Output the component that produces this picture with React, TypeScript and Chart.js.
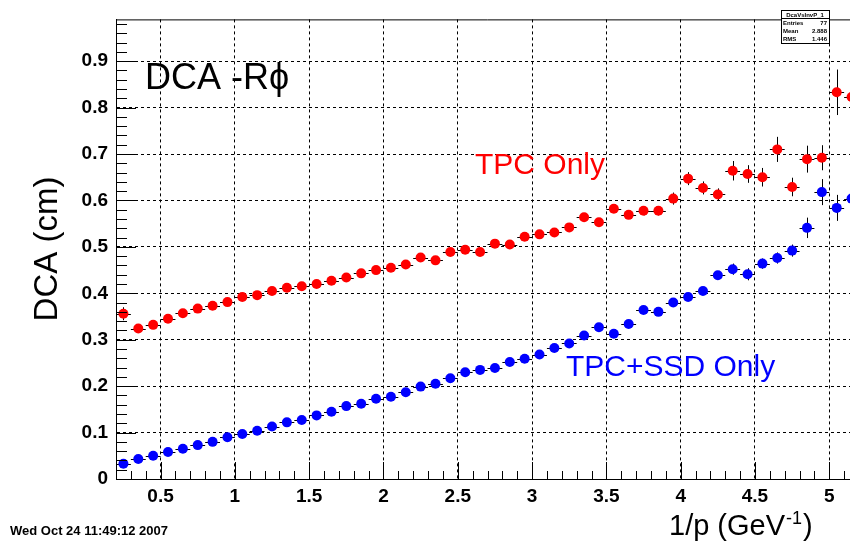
import React, { useEffect, useRef } from "react";
import { Chart, registerables } from "chart.js";

Chart.register(...registerables);

// ---- data ----
const binCenters = [
  0.25, 0.35, 0.45, 0.55, 0.65, 0.75, 0.85, 0.95, 1.05, 1.15,
  1.25, 1.35, 1.45, 1.55, 1.65, 1.75, 1.85, 1.95, 2.05, 2.15,
  2.25, 2.35, 2.45, 2.55, 2.65, 2.75, 2.85, 2.95, 3.05, 3.15,
  3.25, 3.35, 3.45, 3.55, 3.65, 3.75, 3.85, 3.95, 4.05, 4.15,
  4.25, 4.35, 4.45, 4.55, 4.65, 4.75, 4.85, 4.95, 5.05, 5.15,
];
const binHalfWidth = 0.05;

const tpcOnly = [
  0.356, 0.324, 0.332, 0.345, 0.357, 0.367, 0.373, 0.381, 0.392, 0.396,
  0.405, 0.412, 0.415, 0.420, 0.427, 0.434, 0.443, 0.450, 0.455, 0.462,
  0.477, 0.471, 0.489, 0.494, 0.489, 0.507, 0.505, 0.522, 0.527, 0.531,
  0.542, 0.564, 0.553, 0.582, 0.569, 0.578, 0.578, 0.604, 0.647, 0.627,
  0.613, 0.664, 0.657, 0.650, 0.710, 0.629, 0.689, 0.692, 0.833, 0.823,
];
const tpcOnlyErr = [
  0.014, 0.005, 0.005, 0.005, 0.005, 0.005, 0.005, 0.005, 0.005, 0.005,
  0.006, 0.006, 0.006, 0.006, 0.006, 0.006, 0.006, 0.007, 0.007, 0.007,
  0.007, 0.007, 0.008, 0.008, 0.008, 0.008, 0.008, 0.008, 0.009, 0.009,
  0.009, 0.009, 0.009, 0.009, 0.009, 0.010, 0.010, 0.013, 0.014, 0.014,
  0.013, 0.021, 0.019, 0.020, 0.027, 0.020, 0.029, 0.027, 0.049, 0.018,
];

const tpcSsd = [
  0.033, 0.043, 0.050, 0.058, 0.065, 0.073, 0.080, 0.090, 0.097, 0.104,
  0.113, 0.122, 0.127, 0.137, 0.145, 0.157, 0.162, 0.173, 0.177, 0.187,
  0.199, 0.205, 0.217, 0.230, 0.235, 0.239, 0.252, 0.259, 0.268, 0.282,
  0.292, 0.309, 0.327, 0.313, 0.334, 0.364, 0.360, 0.380, 0.392, 0.405,
  0.439, 0.452, 0.441, 0.464, 0.476, 0.492, 0.541, 0.618, 0.584, 0.604,
];
const tpcSsdErr = [
  0.003, 0.003, 0.003, 0.003, 0.003, 0.003, 0.003, 0.003, 0.003, 0.003,
  0.004, 0.004, 0.004, 0.004, 0.004, 0.004, 0.004, 0.004, 0.004, 0.004,
  0.005, 0.005, 0.005, 0.005, 0.005, 0.005, 0.005, 0.005, 0.006, 0.006,
  0.006, 0.006, 0.006, 0.007, 0.007, 0.007, 0.007, 0.007, 0.008, 0.008,
  0.008, 0.012, 0.013, 0.011, 0.012, 0.013, 0.022, 0.028, 0.028, 0.020,
];

const xTickValues = [0.5, 1, 1.5, 2, 2.5, 3, 3.5, 4, 4.5, 5];
const xTickLabels = ["0.5", "1", "1.5", "2", "2.5", "3", "3.5", "4", "4.5", "5"];
const yTickValues = [0, 0.1, 0.2, 0.3, 0.4, 0.5, 0.6, 0.7, 0.8, 0.9];
const yTickLabels = ["0", "0.1", "0.2", "0.3", "0.4", "0.5", "0.6", "0.7", "0.8", "0.9"];

const seriesNames = ["TPC Only", "TPC+SSD Only"];
const seriesColors = ["#ff0000", "#0000ff"];

const FONT = '"Liberation Sans", Arial, Helvetica, "DejaVu Sans", sans-serif';

const errorBarPlugin = {
  id: "errorBars",
  beforeDatasetsDraw(chart: any) {
    const { ctx, chartArea } = chart;
    const xs = chart.scales.x;
    const ys = chart.scales.y;
    const errs = [tpcOnlyErr, tpcSsdErr];
    const vals = [tpcOnly, tpcSsd];
    ctx.save();
    ctx.beginPath();
    ctx.rect(chartArea.left, chartArea.top, chartArea.right - chartArea.left, chartArea.bottom - chartArea.top);
    ctx.clip();
    ctx.strokeStyle = "#000";
    ctx.lineWidth = 1;
    for (let d = 0; d < vals.length; d++) {
      for (let i = 0; i < binCenters.length; i++) {
        const x = binCenters[i];
        const y = vals[d][i];
        const e = errs[d][i];
        const px = Math.round(xs.getPixelForValue(x)) + 0.5;
        const py = Math.round(ys.getPixelForValue(y)) + 0.5;
        ctx.beginPath();
        ctx.moveTo(xs.getPixelForValue(x - binHalfWidth), py);
        ctx.lineTo(xs.getPixelForValue(x + binHalfWidth), py);
        ctx.moveTo(px, ys.getPixelForValue(y - e));
        ctx.lineTo(px, ys.getPixelForValue(y + e));
        ctx.stroke();
      }
    }
    ctx.restore();
  },
};

const decorPlugin = {
  id: "decor",
  afterDraw(chart: any) {
    const { ctx, chartArea } = chart;
    const xs = chart.scales.x;
    const ys = chart.scales.y;
    ctx.save();
    ctx.strokeStyle = "#000";
    ctx.lineWidth = 1;
    // frame top
    ctx.beginPath();
    ctx.moveTo(chartArea.left, chartArea.top + 0.5);
    ctx.lineTo(chartArea.right, chartArea.top + 0.5);
    ctx.stroke();
    // y ticks (inside)
    ctx.beginPath();
    for (let i = 0; i <= 49; i++) {
      const v = i * 0.02;
      const py = Math.round(ys.getPixelForValue(v)) + 0.5;
      const len = i % 5 === 0 ? 20 : 11;
      ctx.moveTo(chartArea.left, py);
      ctx.lineTo(chartArea.left + len, py);
    }
    // x ticks (inside)
    for (let i = 2; i <= 52; i++) {
      const v = i * 0.1;
      const px = Math.round(xs.getPixelForValue(v)) + 0.5;
      const len = i % 5 === 0 ? 17 : 8;
      ctx.moveTo(px, chartArea.bottom);
      ctx.lineTo(px, chartArea.bottom - len);
    }
    ctx.stroke();

    // texts
    ctx.textBaseline = "alphabetic";
    ctx.textAlign = "left";
    ctx.fillStyle = "#000";
    ctx.font = `36px ${FONT}`;
    ctx.fillText("DCA -R\u03D5", 145, 89);

    ctx.font = `30px ${FONT}`;
    ctx.fillStyle = seriesColors[0];
    ctx.fillText(seriesNames[0], 475, 174);
    ctx.fillStyle = seriesColors[1];
    ctx.fillText(seriesNames[1], 566, 376);

    // y title
    ctx.fillStyle = "#000";
    ctx.save();
    ctx.translate(57, 249);
    ctx.rotate(-Math.PI / 2);
    ctx.textAlign = "center";
    ctx.font = `33px ${FONT}`;
    ctx.fillText("DCA (cm)", 0, 0);
    ctx.restore();

    // x title with superscript
    ctx.font = `29px ${FONT}`;
    let tx = 669;
    const base = 535;
    const main = "1/p (GeV";
    ctx.fillText(main, tx, base);
    tx += ctx.measureText(main).width + 1;
    ctx.font = `18px ${FONT}`;
    ctx.fillText("-1", tx, base - 11);
    tx += ctx.measureText("-1").width + 1;
    ctx.font = `29px ${FONT}`;
    ctx.fillText(")", tx, base);

    // date
    ctx.font = `bold 13px ${FONT}`;
    ctx.fillText("Wed Oct 24 11:49:12 2007", 10, 535);

    // stats box
    const bx = 781, by = 10, bw = 48, bh = 33;
    ctx.fillStyle = "#fff";
    ctx.fillRect(bx, by, bw, bh);
    ctx.strokeRect(bx + 0.5, by + 0.5, bw, bh);
    ctx.beginPath();
    ctx.moveTo(bx, by + 8.5);
    ctx.lineTo(bx + bw, by + 8.5);
    ctx.stroke();
    ctx.fillStyle = "#000";
    ctx.font = `bold 6px ${FONT}`;
    ctx.textAlign = "center";
    ctx.fillText("DcaVsInvP_1", bx + bw / 2, by + 7);
    ctx.textAlign = "left";
    ctx.fillText("Entries", bx + 2, by + 15);
    ctx.fillText("Mean", bx + 2, by + 23);
    ctx.fillText("RMS", bx + 2, by + 31);
    ctx.textAlign = "right";
    ctx.fillText("77", bx + bw - 2, by + 15);
    ctx.fillText("2.888", bx + bw - 2, by + 23);
    ctx.fillText("1.446", bx + bw - 2, by + 31);
    ctx.restore();
  },
};

export default function App() {
  const ref = useRef<HTMLCanvasElement>(null);
  useEffect(() => {
    if (!ref.current) return;
    const tickFont = { family: FONT, size: 19, weight: "bold" as const };
    const chart = new Chart(ref.current, {
      type: "scatter",
      data: {
        datasets: [tpcOnly, tpcSsd].map((vals, d) => ({
          label: seriesNames[d],
          data: binCenters.map((x, i) => ({ x, y: vals[i] })),
          backgroundColor: seriesColors[d],
          borderColor: seriesColors[d],
          pointRadius: 5,
          pointBorderWidth: 0,
          pointHoverRadius: 5,
          showLine: false,
        })),
      },
      options: {
        responsive: false,
        animation: false,
        devicePixelRatio: 1,
        events: [],
        layout: { padding: { top: 7, right: 21, left: 0, bottom: 0 } },
        plugins: { legend: { display: false }, tooltip: { enabled: false } },
        scales: {
          x: {
            type: "linear",
            min: 0.2,
            max: 5.2,
            afterFit: (s: any) => {
              s.height = 62;
            },
            afterBuildTicks: (s: any) => {
              s.ticks = xTickValues.map((v) => ({ value: v }));
            },
            ticks: {
              padding: 6,
              font: tickFont,
              color: "#000",
              maxRotation: 0,
              autoSkip: false,
              callback: (_v: any, i: number) => xTickLabels[i],
            },
            grid: { color: "#000", lineWidth: 1, drawTicks: false },
            border: { display: true, color: "#000", width: 1, dash: [3, 3] },
          },
          y: {
            type: "linear",
            min: 0,
            max: 0.99,
            afterFit: (s: any) => {
              s.width = 116;
            },
            afterBuildTicks: (s: any) => {
              s.ticks = yTickValues.map((v) => ({ value: v }));
            },
            ticks: {
              padding: 8,
              font: tickFont,
              color: "#000",
              autoSkip: false,
              callback: (_v: any, i: number) => yTickLabels[i],
            },
            grid: { color: "#000", lineWidth: 1, drawTicks: false },
            border: { display: true, color: "#000", width: 1, dash: [3, 3] },
          },
        },
      },
      plugins: [errorBarPlugin, decorPlugin],
    } as any);
    return () => chart.destroy();
  }, []);

  return (
    <div
      style={{
        position: "fixed",
        left: 0,
        top: 0,
        width: 850,
        height: 541,
        overflow: "hidden",
        background: "#fff",
      }}
    >
      <canvas ref={ref} width={880} height={541} style={{ display: "block" }} />
    </div>
  );
}
